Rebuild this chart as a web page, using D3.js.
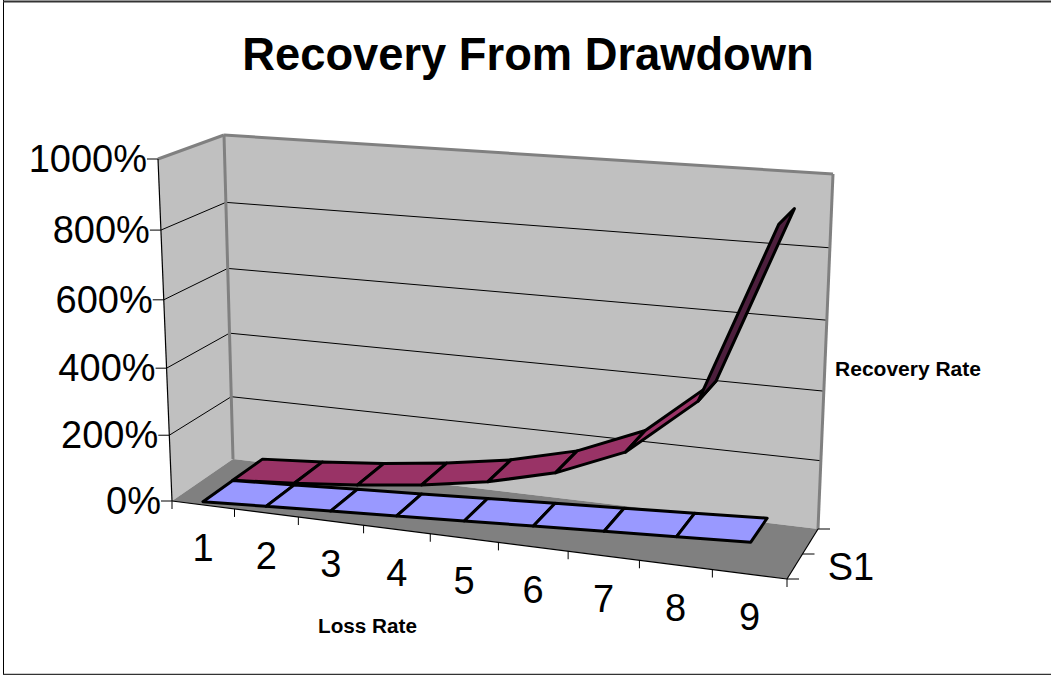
<!DOCTYPE html>
<html><head><meta charset="utf-8">
<script src="https://cdnjs.cloudflare.com/ajax/libs/d3/7.8.5/d3.min.js"></script>
<style>html,body{margin:0;padding:0;background:#fff}svg{display:block}text{font-family:"Liberation Sans",Arial,sans-serif;fill:#000}</style>
</head><body><svg id="c" width="1051" height="675"></svg>
<script>
const categories = ["1","2","3","4","5","6","7","8","9"];
const lossRate = [10,20,30,40,50,60,70,80,90];
const recoveryRate = [11,25,43,67,100,150,233,400,900];
const valueTicks = [0,200,400,600,800,1000];
const titleText = "Recovery From Drawdown";
const xTitle = "Loss Rate", yTitle = "Recovery Rate", seriesLabel = "S1";

const svg = d3.select("#c");
// the eight corners of the 3D box as seen on screen
const box = {
  fb:[[172,501],[787,579]], bb:[[233,459],[818,529]],
  ft:[[158,159],[804,204]], bt:[[224,135],[833,174]]
};
const k = 1.105, kv = 1.05;
const uScale = d3.scaleLinear().domain([0,categories.length]).range([0,1]);
const vScale = d3.scaleLinear().domain([0,1000]).range([0,1]);
const warp = (u,c) => u/(c-(c-1)*u);
const mix = (a,b,t)=>[a[0]+(b[0]-a[0])*t,a[1]+(b[1]-a[1])*t];
function proj(pos,d,val){
  const u = warp(uScale(pos),k), v = warp(vScale(val),kv);
  const bot = mix(mix(box.fb[0],box.fb[1],u),mix(box.bb[0],box.bb[1],u),d);
  const top = mix(mix(box.ft[0],box.ft[1],u),mix(box.bt[0],box.bt[1],u),d);
  return mix(bot,top,v);
}
const line = d3.line();
const n = categories.length;
const poly=(pts,fill,stroke,sw)=>svg.append("path").attr("d",line(pts)+"Z").attr("fill",fill)
  .attr("stroke",stroke||"none").attr("stroke-width",sw||0).attr("stroke-linejoin","round");
const seg=(a,b,stroke,sw)=>svg.append("path").attr("d",line([a,b])).attr("fill","none").attr("stroke",stroke).attr("stroke-width",sw);

// frame
seg([3.5,0],[3.5,675],"#000",1);
seg([3,1.5],[1051,1.5],"#333",2);
seg([3,674.5],[1051,674.5],"#333",1.5);

// walls and floor
poly([proj(0,0,0),proj(0,0,1000),proj(0,1,1000),proj(0,1,0)],"#c0c0c0");
poly([proj(0,1,0),proj(0,1,1000),proj(n,1,1000),proj(n,1,0)],"#c0c0c0");
poly([proj(0,0,0),proj(n,0,0),proj(n,1,0),proj(0,1,0)],"#808080");

// gridlines
valueTicks.slice(1,-1).forEach(t=>{
  seg(proj(0,0,t),proj(0,1,t),"#000",1);
  seg(proj(0,1,t),proj(n,1,t),"#000",1);
});
// wall edges
seg(proj(0,0,1000),proj(0,1,1000),"#808080",3);
seg(proj(0,1,1000),proj(n,1,1000),"#808080",3);
seg(proj(0,1,0),proj(0,1,1000),"#808080",3);
seg(proj(n,1,0),proj(n,1,1000),"#808080",3);
// axes
seg(proj(0,0,0),proj(0,0,1000),"#000",1.2);
seg(proj(0,0,0),proj(n,0,0),"#000",1.2);
seg(proj(n,0,0),proj(n,1,0),"#000",1.2);

// value ticks and labels
valueTicks.forEach(t=>{
  const p=proj(0,0,t);
  seg([p[0]-11,p[1]],p,"#000",1);
  svg.append("text").attr("x",p[0]-11).attr("y",p[1]+13).attr("text-anchor","end").attr("font-size",38).text(t+"%");
});
// category ticks and labels
d3.range(0,n+1).forEach(i=>{
  const p=proj(i,0,0);
  seg(p,[p[0],p[1]+8],"#000",1);
});
categories.forEach((c,i)=>{
  const p=proj(i+0.5,0,0);
  svg.append("text").attr("x",p[0]).attr("y",p[1]+56).attr("text-anchor","middle").attr("font-size",38).text(c);
});
// depth ticks
[0,0.5,1].forEach(d=>{const p=proj(n,d,0);seg(p,[p[0]+12,p[1]],"#000",1);});
const sp=proj(n,0.25,0);
svg.append("text").attr("x",sp[0]+33).attr("y",sp[1]+13).attr("font-size",38).text(seriesLabel);

// ribbons
function ribbon(values,d0,d1,upColor,downColor){
  for(let i=0;i<n-1;i++){
    const q=[proj(i+0.5,d0,values[i]),proj(i+1.5,d0,values[i+1]),proj(i+1.5,d1,values[i+1]),proj(i+0.5,d1,values[i])];
    const facing=d3.polygonArea(q)>0;
    poly(q,facing?upColor:downColor,"#000",3);
  }
}
ribbon(recoveryRate,0.5,1,"#993366","#4d1f3d");
ribbon(lossRate,0,0.5,"#9999ff","#4d4d80");

// titles
svg.append("text").attr("x",528).attr("y",70).attr("text-anchor","middle").attr("font-weight","bold").attr("font-size",45.3).text(titleText);
svg.append("text").attr("x",367.5).attr("y",633).attr("text-anchor","middle").attr("font-weight","bold").attr("font-size",20.7).text(xTitle);
svg.append("text").attr("x",908).attr("y",376).attr("text-anchor","middle").attr("font-weight","bold").attr("font-size",21).text(yTitle);
</script></body></html>
